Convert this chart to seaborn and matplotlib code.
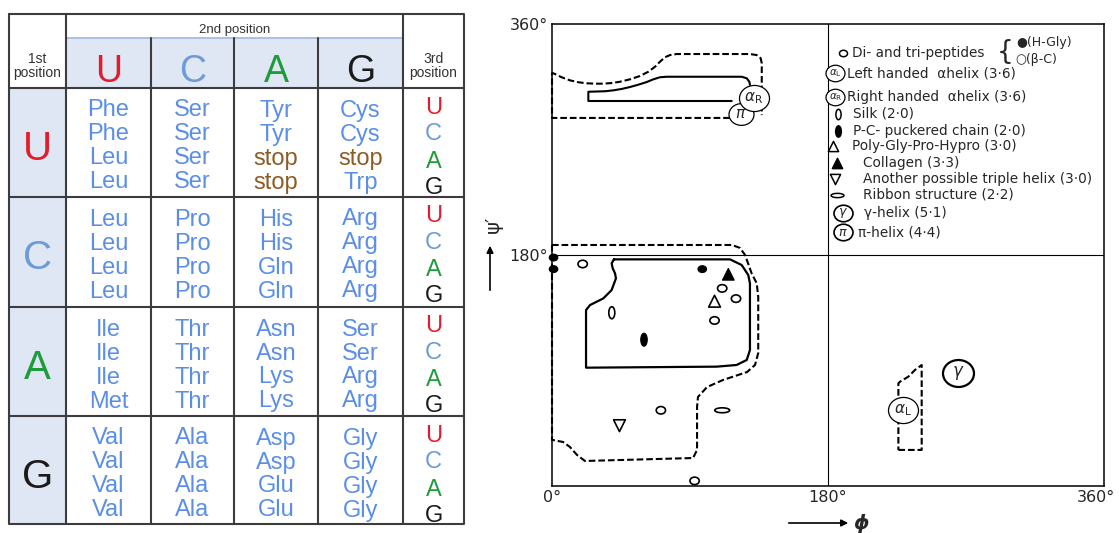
import pandas as pd
import matplotlib.pyplot as plt
import seaborn as sns
from matplotlib.path import Path
from matplotlib.transforms import Affine2D, ScaledTranslation
from matplotlib.patches import Rectangle

sns.set_style("white")
plt.rcParams["font.family"] = ["DejaVu Sans"]

# ---------------- codon table data ----------------
bases = ["U", "C", "A", "G"]
base_colors = ["#e31b2a", "#6c9bd6", "#1e9b3a", "#1b1b1b"]
codon_table = [
    [["Phe", "Phe", "Leu", "Leu"], ["Ser", "Ser", "Ser", "Ser"],
     ["Tyr", "Tyr", "stop", "stop"], ["Cys", "Cys", "stop", "Trp"]],
    [["Leu", "Leu", "Leu", "Leu"], ["Pro", "Pro", "Pro", "Pro"],
     ["His", "His", "Gln", "Gln"], ["Arg", "Arg", "Arg", "Arg"]],
    [["Ile", "Ile", "Ile", "Met"], ["Thr", "Thr", "Thr", "Thr"],
     ["Asn", "Asn", "Lys", "Lys"], ["Ser", "Ser", "Arg", "Arg"]],
    [["Val", "Val", "Val", "Val"], ["Ala", "Ala", "Ala", "Ala"],
     ["Asp", "Asp", "Glu", "Glu"], ["Gly", "Gly", "Gly", "Gly"]],
]
aa_color = "#5b8ee6"
stop_color = "#8e5b25"
fill_color = "#dfe6f4"
grid_color = "#3c3c3c"

# ---------------- Ramachandran data (phi, psi in degrees) ----------------
hgly_phi = [1, 1, 98]
hgly_psi = [178, 169, 169]
betac_phi = [20, 111, 120, 106, 71, 93]
betac_psi = [173, 154, 146, 129, 59, 4]
silk_phi, silk_psi = [39], [135]
pc_phi, pc_psi = [60], [114]
polygly_phi, polygly_psi = [106], [144]
collagen_phi, collagen_psi = [115], [165]
triple_phi, triple_psi = [44], [47]
ribbon_phi, ribbon_psi = [111], [59]

helix_names = ["π", "αR", "αL", "γ"]
helix_phi = [123.3, 131.7, 229.1, 265.0]
helix_psi = [289.9, 302.3, 59.2, 87.8]

# region boundaries
ar_outer_phi = [116, 0, 0, 0.9, 6.3, 11.7, 17.2, 22.6, 28.0, 33.5, 38.9, 44.3, 50.9, 57.4,
                62.8, 67.2, 70.4, 73.7, 77.0, 81.3, 129.1, 133.5, 136.1, 136.8, 136.8]
ar_outer_psi = [286.8, 286.8, 321.6, 321.6, 318.5, 316.1, 314.6, 313.8, 313.5, 313.5, 314.0,
                315.0, 316.9, 319.5, 322.8, 326.7, 330.6, 334.1, 335.8, 336.6, 336.6, 335.8,
                333.3, 329.4, 289]
ar_inner_phi = [117.2, 23.7, 23.7, 29.2, 34.6, 40.0, 45.5, 50.9, 56.3, 61.8, 66.1, 70.4, 74.8,
                123.7, 127.0, 128.7, 129.1]
ar_inner_psi = [300.0, 300.0, 307.2, 307.4, 307.6, 308.3, 309.4, 310.9, 312.7, 314.8, 316.9,
                318.5, 318.9, 318.9, 317.7, 315.0, 312.5]
beta_outer_phi = [0, 117.4, 122.6, 125.9, 130.2, 133.5, 134.5, 134.5, 132.4, 127.2, 111.5, 101.1,
                  95.2, 94.6, 94.6, 92.0, 21.5, 16.3, 11.7, 7.2, 0.7, 0, 0]
beta_outer_psi = [187.8, 187.8, 185.5, 180.0, 165.7, 158.0, 147.5, 103.6, 94.3, 88.8, 82.6, 77.1,
                  69.4, 61.6, 28.1, 21.8, 19.5, 24.2, 30.4, 34.3, 35.8, 35.8, 187.8]
beta_inner_phi = [40.4, 116.1, 123.7, 128.0, 129.1, 129.1, 127.0, 120.4, 107.4, 22.2, 22.2,
                  24.8, 33.5, 38.9, 41.7, 41.1, 39.6, 38.9, 40.4]
beta_inner_psi = [176.6, 176.6, 172.2, 164.4, 157.9, 106.0, 98.2, 94.3, 93.0, 92.2, 137.1,
                  141.0, 146.2, 152.7, 161.8, 165.7, 169.6, 173.5, 176.6]
al_phi = [225.9, 241.1, 241.1, 236.7, 232.4, 227.0, 225.9, 225.9]
al_psi = [28.1, 28.1, 94.3, 90.4, 85.2, 81.3, 80.0, 28.1]

legend_labels = ["Di- and tri-peptides", "Left handed  αhelix (3·6)",
                 "Right handed  αhelix (3·6)", "Silk (2·0)", "P-C- puckered chain (2·0)",
                 "Poly-Gly-Pro-Hypro (3·0)", "Collagen (3·3)",
                 "Another possible triple helix (3·0)", "Ribbon structure (2·2)",
                 "γ-helix (5·1)", "π-helix (4·4)"]
legend_icons = ["circle", "αL", "αR", "silk", "pc", "up", "upfill", "down", "ribbon", "γ", "π"]
legend_psi = [337.4, 321.8, 303.1, 289.9, 276.6, 264.9, 251.7, 239.2, 226.8, 212.7, 197.9]
legend_icon_phi = [189.8, 184.8, 184.8, 186.5, 186.5, 183.3, 185.9, 184.6, 185.9, 189.8, 189.8]
legend_text_phi = [195.7, 192.4, 192.4, 196.3, 196.3, 195.7, 202.6, 202.6, 202.6, 203.3, 199.6]

x_ticks = [0, 180, 360]
y_ticks = [180, 360]

# marker shapes
oval_v = Path.unit_circle().transformed(Affine2D().scale(0.5, 1.0))
oval_h = Path.unit_circle().transformed(Affine2D().scale(1.0, 0.33))
round_o = Path.unit_circle().transformed(Affine2D().scale(1.0, 0.8))
ring = Path.unit_circle().transformed(Affine2D().scale(1.0, 0.87))
marker_of = {"circle": round_o, "silk": oval_v, "pc": oval_v, "up": "^", "upfill": "^",
             "down": "v", "ribbon": oval_h, "dot": round_o}
size_of = {"circle": 45, "silk": 75, "pc": 88, "up": 72, "upfill": 72, "down": 72,
           "ribbon": 115, "dot": 38}

fig = plt.figure(figsize=(11.19, 5.33), dpi=100)

# ================= codon table (pixel layout) =================
ax_t = fig.add_axes([0, 0, 1, 1])
ax_t.set_xlim(0, 1119)
ax_t.set_ylim(533, 0)
ax_t.axis("off")

col_edges = [9, 66, 151, 234, 318, 403, 464]
row_edges = [14, 88, 197, 307, 416, 524]
band_y = 38
tfont = "Liberation Sans"

ax_t.add_patch(Rectangle((col_edges[1], band_y), col_edges[5] - col_edges[1],
                         row_edges[1] - band_y, color=fill_color, lw=0))
ax_t.add_patch(Rectangle((col_edges[0], row_edges[1]), col_edges[1] - col_edges[0],
                         row_edges[5] - row_edges[1], color=fill_color, lw=0))
ax_t.plot([col_edges[1], col_edges[5]], [band_y, band_y], color="#a9c2ea", lw=1.4)

lw_g = 1.5
ax_t.plot([col_edges[0], col_edges[6], col_edges[6], col_edges[0], col_edges[0]],
          [row_edges[0], row_edges[0], row_edges[5], row_edges[5], row_edges[0]],
          color=grid_color, lw=lw_g)
for x in (col_edges[1], col_edges[5]):
    ax_t.plot([x, x], [row_edges[0], row_edges[5]], color=grid_color, lw=lw_g)
for x in col_edges[2:5]:
    ax_t.plot([x, x], [band_y, row_edges[5]], color=grid_color, lw=lw_g)
for y in row_edges[1:5]:
    ax_t.plot([col_edges[0], col_edges[6]], [y, y], color=grid_color, lw=lw_g)

ax_t.text((col_edges[1] + col_edges[5]) / 2, 32.5, "2nd position", ha="center",
          va="baseline", fontsize=9.5, color="#333333", family=tfont)
for cx, word in [((col_edges[0] + col_edges[1]) / 2, "1st"),
                 ((col_edges[5] + col_edges[6]) / 2, "3rd")]:
    ax_t.text(cx, 63.3, word, ha="center", va="baseline", fontsize=10, color="#333333",
              family=tfont)
    ax_t.text(cx, 77.3, "position", ha="center", va="baseline", fontsize=10,
              color="#333333", family=tfont)

col_centers = [(col_edges[i] + col_edges[i + 1]) / 2 for i in range(1, 5)]
for j, b in enumerate(bases):
    ax_t.text(col_centers[j], 81.7, b, ha="center", va="baseline", fontsize=27,
              color=base_colors[j], family=tfont)

aa_offsets = [28.5, 52.5, 76.5, 100.5]
third_offsets = [25.5, 52, 79.5, 105.5]
for i, b in enumerate(bases):
    top = row_edges[i + 1]
    ax_t.text((col_edges[0] + col_edges[1]) / 2, top + 72, b, ha="center", va="baseline",
              fontsize=29, color=base_colors[i], family=tfont)
    for j in range(4):
        for k, aa in enumerate(codon_table[i][j]):
            ax_t.text(col_centers[j], top + aa_offsets[k], aa, ha="center", va="baseline",
                      fontsize=17, color=stop_color if aa == "stop" else aa_color,
                      family=tfont)
    for k, b3 in enumerate(bases):
        ax_t.text((col_edges[5] + col_edges[6]) / 2, top + third_offsets[k], b3,
                  ha="center", va="baseline", fontsize=17, color=base_colors[k],
                  family=tfont)

# axis arrows for the plot
ax_t.annotate("", xy=(490, 243), xytext=(490, 293),
              arrowprops=dict(arrowstyle="-|>", color="black", lw=1.2, mutation_scale=10))
ax_t.text(493, 224, "ψ′", rotation=90, ha="center", va="center", fontsize=14)
ax_t.annotate("", xy=(851, 523), xytext=(786, 523),
              arrowprops=dict(arrowstyle="-|>", color="black", lw=1.2, mutation_scale=10))
ax_t.text(853, 523, "ϕ", ha="left", va="center", fontsize=14, fontweight="bold",
          style="italic")

# ================= Ramachandran plot =================
ax = fig.add_axes([552 / 1119, 47 / 533, 552 / 1119, 462 / 533])
ax.set_xlim(0, 360)
ax.set_ylim(0, 360)
for s in ax.spines.values():
    s.set_visible(True)
    s.set_color("black")
    s.set_linewidth(1.1)
ax.axvline(180, color="black", lw=0.8)
ax.axhline(180, color="black", lw=0.8)
ax.set_xticks(x_ticks, [f"{t}°" for t in x_ticks])
ax.set_yticks(y_ticks, [f"{t}°" for t in y_ticks])
ax.tick_params(length=0, labelsize=11.5, pad=3)
# keep the last phi label inside the image
last = ax.get_xticklabels()[-1]
last.set_transform(last.get_transform() + ScaledTranslation(-6 / 72, 0, fig.dpi_scale_trans))

dash = (0, (3.2, 1.4))
ax.plot(ar_outer_phi, ar_outer_psi, color="black", lw=1.5, ls=dash, clip_on=False)
ax.plot(ar_inner_phi, ar_inner_psi, color="black", lw=1.5, clip_on=False)
ax.plot(beta_outer_phi, beta_outer_psi, color="black", lw=1.5, ls=dash, clip_on=False)
ax.plot(beta_inner_phi, beta_inner_psi, color="black", lw=1.6, clip_on=False)
ax.plot(al_phi, al_psi, color="black", lw=1.5, ls=dash, clip_on=False)

open_pts = pd.DataFrame({
    "phi": betac_phi + silk_phi + polygly_phi + triple_phi + ribbon_phi,
    "psi": betac_psi + silk_psi + polygly_psi + triple_psi + ribbon_psi,
    "kind": ["circle"] * len(betac_phi) + ["silk", "up", "down", "ribbon"],
})
filled_pts = pd.DataFrame({
    "phi": hgly_phi + pc_phi + collagen_phi,
    "psi": hgly_psi + pc_psi + collagen_psi,
    "kind": ["dot"] * len(hgly_phi) + ["pc", "upfill"],
})
sns.scatterplot(data=open_pts, x="phi", y="psi", style="kind", size="kind",
                markers={k: marker_of[k] for k in open_pts["kind"].unique()},
                sizes={k: size_of[k] for k in open_pts["kind"].unique()},
                color="white", edgecolor="black", linewidth=1.2, legend=False, ax=ax,
                zorder=4, clip_on=False)
sns.scatterplot(data=filled_pts, x="phi", y="psi", style="kind", size="kind",
                markers={k: marker_of[k] for k in filled_pts["kind"].unique()},
                sizes={k: size_of[k] for k in filled_pts["kind"].unique()},
                color="black", edgecolor="black", linewidth=0.8, legend=False, ax=ax,
                zorder=4, clip_on=False)
ax.set_xlabel("")
ax.set_ylabel("")


def circled(x, y, label, width_px, fs, lw=0.9):
    ax.scatter([x], [y], marker=ring, s=(width_px * 0.72) ** 2, facecolor="white",
               edgecolor="black", linewidths=lw, zorder=6, clip_on=False)
    ax.text(x, y, label, ha="center", va="center", fontsize=fs, zorder=7)


helix_tex = {"π": r"$\pi$", "αR": r"$\alpha_{\mathrm{R}}$", "αL": r"$\alpha_{\mathrm{L}}$",
             "γ": r"$\gamma$"}
helix_width = {"π": 25, "αR": 30, "αL": 30, "γ": 31}
for name, x, y in zip(helix_names, helix_phi, helix_psi):
    circled(x, y, helix_tex[name], helix_width[name],
            12 if name == "γ" else 11, lw=1.6 if name == "γ" else 0.9)

# legend in the upper right quadrant
for lab, icon, y, xi, xt in zip(legend_labels, legend_icons, legend_psi, legend_icon_phi,
                                legend_text_phi):
    if icon in helix_tex:
        circled(xi, y, helix_tex[icon], 19, 7.5 if icon in ("αL", "αR") else 9,
                lw=1.2 if icon in ("γ", "π") else 0.9)
    else:
        filled = icon in ("pc", "upfill")
        ax.scatter([xi], [y], marker=marker_of[icon], s=size_of[icon] * 0.75,
                   facecolor="black" if filled else "white", edgecolor="black",
                   linewidths=1.1, zorder=6)
    ax.text(xt, y, lab, ha="left", va="center", fontsize=9.8)

ax.text(295.4, 338, "{", ha="center", va="center", fontsize=19)
ax.text(302.5, 345.2, "●(H-Gly)", ha="left", va="center", fontsize=9)
ax.text(302.5, 332.0, "○(β-C)", ha="left", va="center", fontsize=9)

fig.savefig("out.png", dpi=100)
